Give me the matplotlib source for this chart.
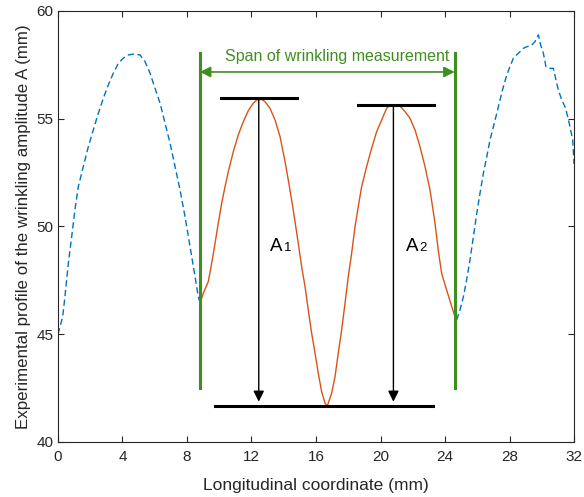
import matplotlib
matplotlib.use("Agg")
import matplotlib.pyplot as plt
from matplotlib.transforms import offset_copy

plt.rcParams['font.family'] = ['Liberation Sans', 'DejaVu Sans']

# Left dashed part of profile (outside measurement span)
left_x = [0.0, 0.29, 0.43, 0.64, 0.85, 1.05, 1.26, 1.57, 1.88, 2.19, 2.50, 2.81, 3.12, 3.43, 3.74, 4.05, 4.36,
          4.67, 5.09, 5.40, 5.71, 6.02, 6.33, 6.64, 6.95, 7.26, 7.57, 7.88, 8.19, 8.50, 8.70, 8.85]
left_y = [45.0, 45.81, 46.74, 48.29, 49.53, 50.77, 51.85, 52.78, 53.70, 54.48, 55.25, 55.95, 56.57, 57.11, 57.57,
          57.81, 57.96, 58.00, 57.96, 57.65, 57.11, 56.41, 55.72, 54.79, 53.86, 52.78, 51.69, 50.45, 49.06, 47.67,
          46.74, 46.36]

# Measured span (solid red)
mid_x = [8.81, 9.01, 9.32, 9.53, 9.74, 9.94, 10.15, 10.36, 10.56, 10.87, 11.18, 11.49, 11.80, 12.11, 12.32, 12.63,
         12.84, 13.15, 13.46, 13.77, 14.08, 14.28, 14.49, 14.70, 14.90, 15.11, 15.32, 15.52, 15.73, 15.94, 16.14,
         16.35, 16.56, 16.70, 16.97, 17.18, 17.38, 17.59, 17.80, 18.00, 18.21, 18.42, 18.62, 18.83, 19.14, 19.45,
         19.76, 20.07, 20.38, 20.59, 20.90, 21.21, 21.52, 21.83, 22.14, 22.45, 22.76, 23.07, 23.38, 23.58, 23.79,
         24.10, 24.42, 24.62]
mid_y = [46.44, 46.90, 47.44, 48.29, 49.22, 50.15, 51.08, 51.85, 52.54, 53.47, 54.25, 54.86, 55.37, 55.72, 55.87,
         55.90, 55.79, 55.48, 54.94, 54.17, 53.01, 52.16, 51.23, 50.22, 49.22, 48.13, 47.21, 46.13, 45.04, 44.12,
         43.19, 42.33, 41.80, 41.67, 42.26, 43.03, 44.12, 45.20, 46.44, 47.67, 48.76, 49.99, 50.92, 51.85, 52.78,
         53.63, 54.40, 54.94, 55.48, 55.64, 55.64, 55.59, 55.33, 55.02, 54.48, 53.70, 52.78, 51.69, 50.15, 48.91,
         47.83, 47.05, 46.28, 45.81]

# Right dashed part
right_x = [24.72, 24.93, 25.14, 25.34, 25.55, 25.76, 25.97, 26.17, 26.38, 26.59, 26.79, 27.00, 27.21, 27.41, 27.62,
           27.83, 28.03, 28.24, 28.55, 28.86, 29.07, 29.38, 29.58, 29.79, 29.93, 30.10, 30.26, 30.51, 30.72, 30.88,
           31.03, 31.24, 31.44, 31.61, 31.75, 31.92, 32.0]
right_y = [45.66, 46.13, 46.74, 47.52, 48.45, 49.53, 50.61, 51.54, 52.47, 53.24, 54.01, 54.63, 55.25, 55.87, 56.49,
           57.03, 57.42, 57.81, 58.04, 58.27, 58.34, 58.42, 58.58, 58.89, 58.42, 58.04, 57.42, 57.34, 57.34, 56.80,
           56.33, 55.87, 55.56, 55.10, 54.63, 54.01, 52.90]

# Annotation geometry values
span_x = [8.8, 24.6]
span_y = [42.5, 58.05]
span_arrow_y = 57.17
span_text = 'Span of wrinkling measurement'
peak_lines = [(10.1, 14.8, 55.96), (18.6, 23.3, 55.64)]
valley_line = (9.74, 23.26, 41.67)
amp_x = [12.45, 20.8]
amp_top = [55.96, 55.64]
amp_letters = ['A', 'A']
amp_digits = ['1', '2']
amp_label_x = [13.15, 21.58]
amp_label_y = 48.85

xticks = [0, 4, 8, 12, 16, 20, 24, 28, 32]
yticks = [40, 45, 50, 55, 60]

blue = '#0072BD'
red = '#D95319'
green = '#3F8F1F'
axcol = '#262626'

fig = plt.figure(figsize=(5.84, 4.97), dpi=100)
ax = fig.add_axes([0.0993, 0.1107, 0.8836, 0.8672])

ax.plot(left_x, left_y, color=blue, lw=1.0, ls=(0, (4.5, 2.5)))
ax.plot(right_x, right_y, color=blue, lw=1.0, ls=(0, (4.5, 2.5)))
ax.plot(mid_x, mid_y, color=red, lw=1.0)

for sx in span_x:
    ax.plot([sx, sx], span_y, color=green, lw=2.2)
ax.annotate('', xy=(span_x[0], span_arrow_y), xytext=(span_x[1], span_arrow_y),
            arrowprops=dict(arrowstyle='<|-|>', color=green, lw=1.2, mutation_scale=16,
                            shrinkA=0, shrinkB=0))
ax.text(sum(span_x) / 2 + 0.6, 57.9, span_text, color=green,
        fontsize=11.5, ha='center', va='center')

for x0, x1, y in peak_lines:
    ax.plot([x0, x1], [y, y], color='black', lw=2.2)
ax.plot([valley_line[0], valley_line[1]], [valley_line[2], valley_line[2]], color='black', lw=2.2)

digit_tr = offset_copy(ax.transData, fig=fig, x=9.8, y=0, units='points')
for xa, yt, let, dig, lx in zip(amp_x, amp_top, amp_letters, amp_digits, amp_label_x):
    ax.annotate('', xy=(xa, valley_line[2] + 0.2), xytext=(xa, yt),
                arrowprops=dict(arrowstyle='-|>', color='black', lw=1.0, mutation_scale=16,
                                shrinkA=0, shrinkB=0))
    ax.text(lx, amp_label_y, let, fontsize=13.5, ha='left', va='baseline')
    ax.text(lx, amp_label_y, dig, fontsize=9.5, ha='left', va='baseline', transform=digit_tr)

ax.set_xlim(0, 32)
ax.set_ylim(40, 60)
ax.set_xticks(xticks)
ax.set_yticks(yticks)
ax.tick_params(direction='in', top=True, right=True, labelsize=11, length=4, color=axcol,
               labelcolor=axcol)
ax.tick_params(axis='x', pad=6)
for s in ax.spines.values():
    s.set_color(axcol)
    s.set_linewidth(0.8)
ax.set_xlabel('Longitudinal coordinate (mm)', fontsize=12.5, color=axcol, labelpad=10)
ax.set_ylabel('Experimental profile of the wrinkling amplitude A (mm)', fontsize=12.2, color=axcol, labelpad=4)

fig.savefig('out.png', dpi=100)
